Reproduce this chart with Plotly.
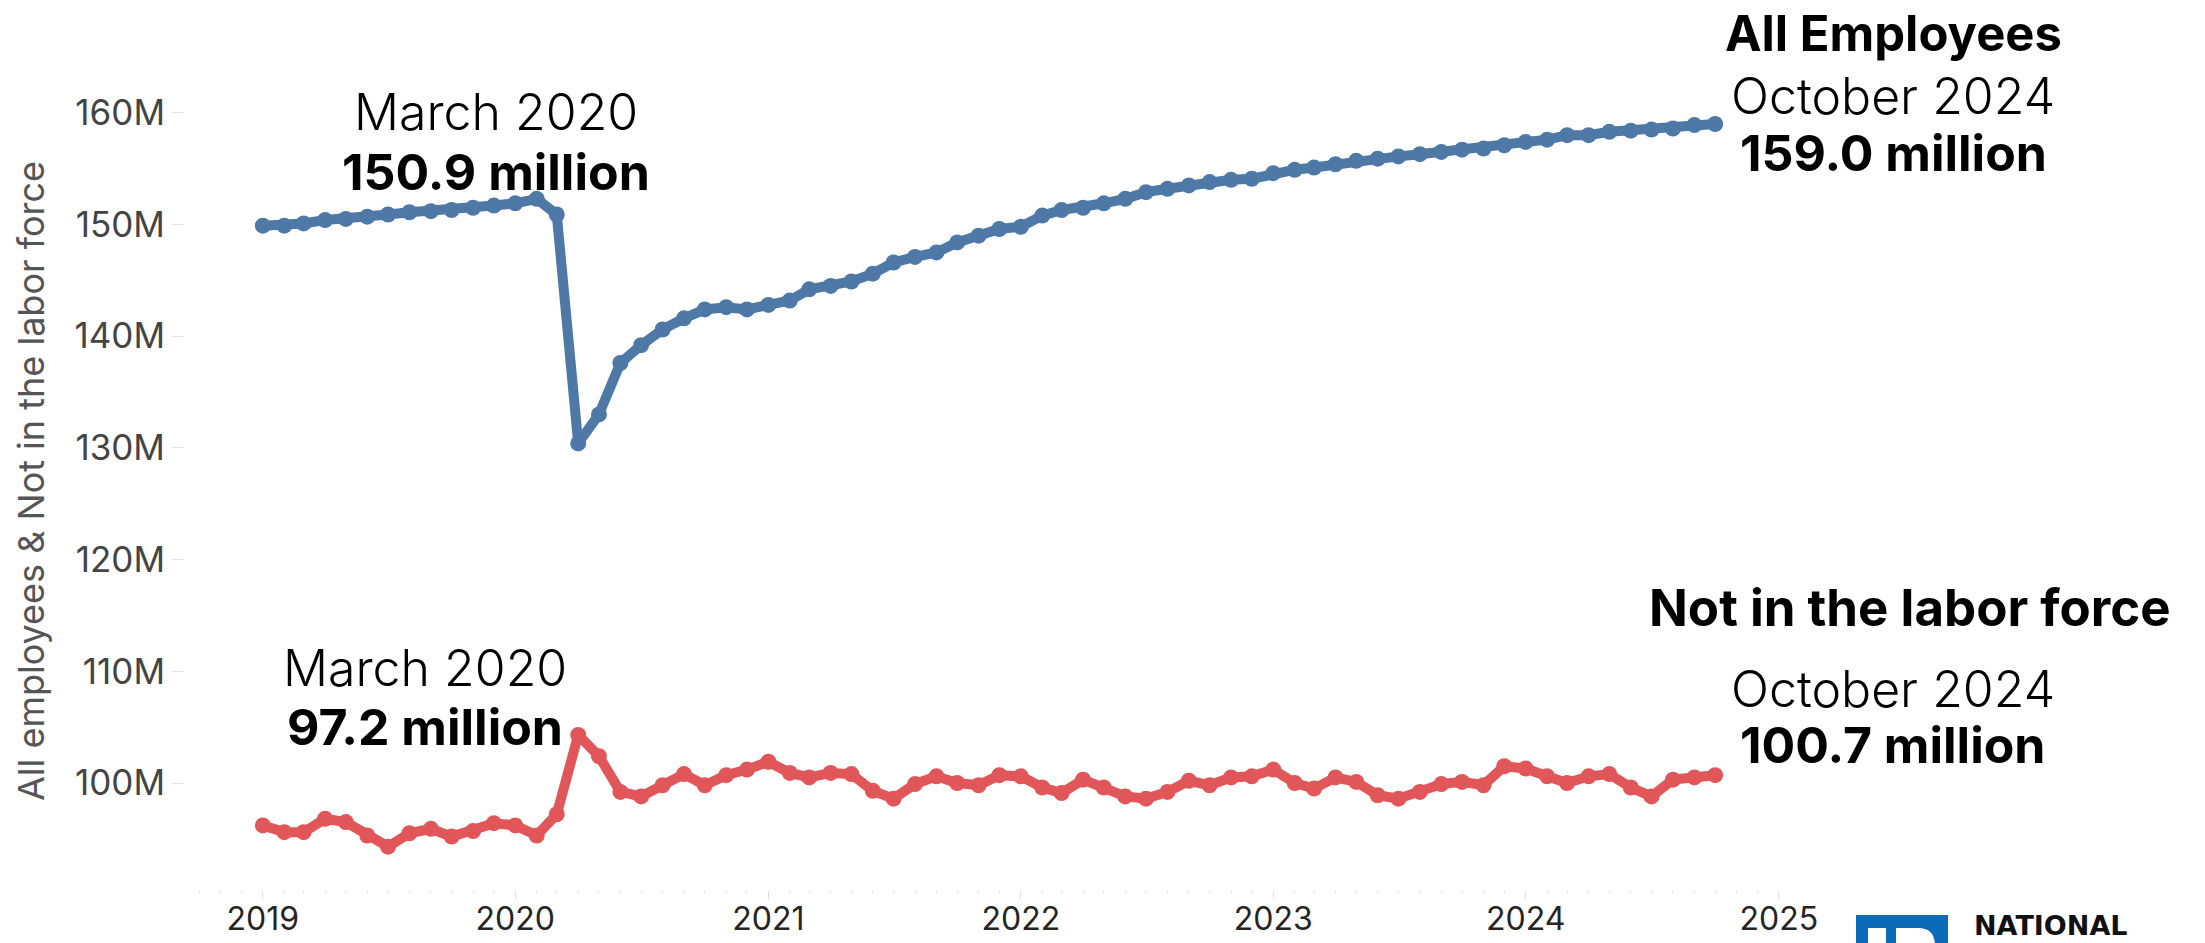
import pandas as pd
import plotly.graph_objects as go

# ---------------- data (millions) ----------------
months = pd.date_range("2019-01-01", "2024-10-01", freq="MS")

all_employees = [149.9, 149.9, 150.1, 150.4, 150.5, 150.7, 150.9, 151.1, 151.2, 151.3, 151.5, 151.7,
                 151.9, 152.3, 150.9, 130.4, 133.0, 137.6, 139.2, 140.6, 141.6, 142.4, 142.6, 142.4,
                 142.8, 143.2, 144.2, 144.5, 144.9, 145.6, 146.6, 147.1, 147.5, 148.4, 149.0, 149.6,
                 149.8, 150.8, 151.3, 151.5, 151.9, 152.3, 152.9, 153.2, 153.5, 153.8, 154.0, 154.1,
                 154.6, 154.9, 155.1, 155.4, 155.7, 155.9, 156.1, 156.3, 156.5, 156.7, 156.8, 157.1,
                 157.4, 157.6, 158.0, 158.0, 158.3, 158.4, 158.5, 158.6, 158.9, 159.0]

not_in_labor_force = [96.2, 95.6, 95.6, 96.8, 96.5, 95.3, 94.3, 95.5, 95.9, 95.2, 95.7, 96.4,
                      96.2, 95.3, 97.2, 104.3, 102.4, 99.2, 98.8, 99.8, 100.8, 99.8, 100.7, 101.2,
                      101.9, 100.9, 100.5, 100.9, 100.8, 99.3, 98.6, 99.9, 100.6, 100.0, 99.8, 100.7,
                      100.6, 99.6, 99.1, 100.3, 99.6, 98.8, 98.6, 99.2, 100.2, 99.8, 100.5, 100.6,
                      101.2, 100.0, 99.5, 100.5, 100.1, 98.9, 98.6, 99.2, 99.9, 100.1, 99.8, 101.5,
                      101.3, 100.6, 100.0, 100.6, 100.8, 99.6, 98.8, 100.3, 100.5, 100.7]

y_ticks = [100, 110, 120, 130, 140, 150, 160]
y_tick_labels = [f"{v}M" for v in y_ticks]

BLUE = "#4E79A7"
RED = "#E15759"
FONT = "Inter"

# ---------------- layout geometry (pixels) ----------------
W, H = 2205, 943
L, R, T, B = 184, 420, 80, 53
PW, PH = W - L - R, H - T - B


def px(xp):
    return (xp - L) / PW


def py(yp):
    return (H - B - yp) / PH


fig = go.Figure()
fig.add_trace(go.Scatter(x=months, y=all_employees, mode="lines+markers", name="All Employees",
                         line=dict(color=BLUE, width=10), marker=dict(color=BLUE, size=16)))
fig.add_trace(go.Scatter(x=months, y=not_in_labor_force, mode="lines+markers", name="Not in the labor force",
                         line=dict(color=RED, width=10), marker=dict(color=RED, size=16)))

ann = []


def text(x, y, s, size, bold=False, weight=None, color="#000", xanchor="center", fam=FONT):
    f = dict(family=fam, size=size, color=color)
    if weight is not None:
        f["weight"] = weight
    ann.append(dict(xref="paper", yref="paper", x=px(x), y=py(y), text=(f"<b>{s}</b>" if bold else s),
                    showarrow=False, xanchor=xanchor, yanchor="middle", font=f))


mar = 14  # March 2020 index
text(496, 112, months[mar].strftime("%B %Y"), 50, weight=300)
text(496, 172, f"{all_employees[mar]:.1f} million", 50, bold=True)
text(1893, 33, "All Employees", 49, bold=True)
text(1893, 96, months[-1].strftime("%B %Y"), 50, weight=300)
text(1893, 153, f"{all_employees[-1]:.1f} million", 50, bold=True)

text(1910, 607, "Not in the labor force", 51, bold=True)
text(425, 668, months[mar].strftime("%B %Y"), 50, weight=300)
text(425, 727, f"{not_in_labor_force[mar]:.1f} million", 50, bold=True)
text(1893, 689, months[-1].strftime("%B %Y"), 50, weight=300)
text(1893, 745, f"{not_in_labor_force[-1]:.1f} million", 50, bold=True)

# y-axis title
ann.append(dict(xref="paper", yref="paper", x=px(31), y=py(481), text="All employees & Not in the labor force",
                textangle=-90, showarrow=False, xanchor="center", yanchor="middle",
                font=dict(family=FONT, size=36, color="#555555")))

# logo text
ann.append(dict(xref="paper", yref="paper", x=px(1972), y=py(925), text="<b>NATIONAL</b>", showarrow=False,
                xanchor="left", yanchor="middle", font=dict(family="DejaVu Sans", size=27, color="#111111")))

shapes = [
    dict(type="rect", xref="paper", yref="paper", x0=px(1856), x1=px(1948), y0=py(960), y1=py(915),
         fillcolor="#0B6BB8", line=dict(width=0), layer="above"),
    dict(type="rect", xref="paper", yref="paper", x0=px(1868), x1=px(1886), y0=py(960), y1=py(928),
         fillcolor="white", line=dict(width=0), layer="above"),
    dict(type="path", xref="paper", yref="paper",
         path=(f"M {px(1896)} {py(960)} L {px(1896)} {py(928)} L {px(1918)} {py(928)} "
               f"Q {px(1935)} {py(928)} {px(1935)} {py(946)} L {px(1935)} {py(960)} Z"),
         fillcolor="white", line=dict(width=0), layer="above"),
]

fig.update_layout(
    width=W, height=H,
    margin=dict(l=L, r=R, t=T, b=B, autoexpand=False),
    paper_bgcolor="white", plot_bgcolor="white",
    showlegend=False,
    annotations=ann,
    shapes=shapes,
    font=dict(family=FONT),
    xaxis=dict(
        range=["2018-09-09", "2025-01-10"],
        automargin=False,
        showgrid=False, zeroline=False, showline=False,
        dtick="M12", tick0="2019-01-01", tickformat="%Y",
        ticks="outside", ticklen=8, tickwidth=1, tickcolor="#dddddd",
        ticklabelstandoff=-7,
        tickfont=dict(family=FONT, size=32, color="#252423"),
        minor=dict(dtick="M1", ticks="outside", ticklen=3, tickcolor="#e3e3e3", showgrid=False),
    ),
    yaxis=dict(
        range=[90.42, 162.94],
        automargin=False,
        showgrid=False, zeroline=False, showline=False,
        tickmode="array", tickvals=y_ticks, ticktext=y_tick_labels,
        ticks="outside", ticklen=11, tickwidth=1, tickcolor="#e3e3e3",
        tickfont=dict(family=FONT, size=35, color="#444444"),
    ),
)

fig.write_html("out.html")
